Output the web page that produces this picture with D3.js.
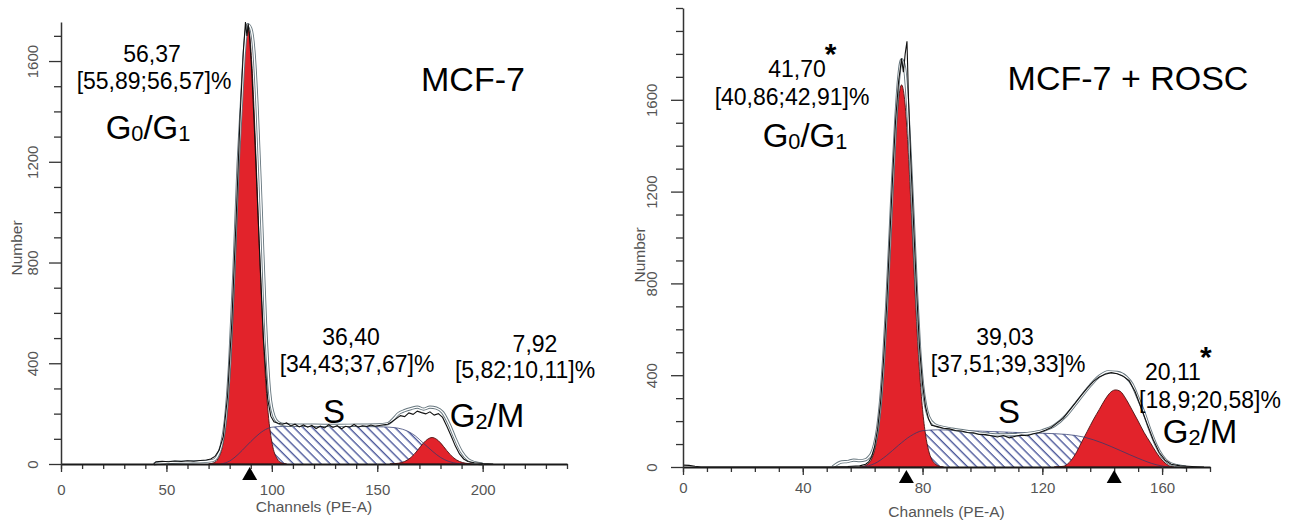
<!DOCTYPE html>
<html>
<head>
<meta charset="utf-8">
<script src="https://cdn.jsdelivr.net/npm/d3@7"></script>
<style>
  body { margin: 0; background: #fff; }
  svg { display: block; font-family: "Liberation Sans", Arial, sans-serif; }
</style>
</head>
<body>
<svg id="chart" width="1291" height="523"></svg>
<script>
/*** cell cycle histograms: MCF-7 vs MCF-7 + ROSC ***/

// [channel, count] pairs

// left panel, MCF-7
let leftG1 = [[70,0],[72.5,5],[74.5,21],[76.5,67],[78.5,181],[80.5,409],[82.5,770],[84.5,1211],[85.5,1419],[86.5,1589],[87.5,1701],[88.5,1740],[89.5,1701],[90.5,1589],[91.5,1419],[92.5,1211],[94.5,770],[96.5,409],[98.5,181],[100.5,67],[102.5,21],[104.5,5],[107,0]];
let leftS = [[76,0],[80,12],[84,38],[88,72],[92,105],[96,132],[100,146],[105,149],[110,149],[120,149],[130,149],[140,149],[150,148],[156,146],[160,142],[164,132],[168,112],[172,82],[176,52],[180,26],[184,10],[188,2],[191,0]];
let leftG2 = [[156,0],[160,3],[163,10],[166,26],[169,53],[172,84],[174,99],[176,105],[178,99],[180,84],[183,53],[186,26],[189,10],[192,3],[196,0]];
let leftFit = [[44,0],[50,6],[60,8],[68,10],[72,14],[74,28],[76,72],[78,175],[80,400],[82,760],[84,1190],[85.5,1420],[87,1640],[88.5,1745],[90,1730],[91.5,1640],[93,1420],[95,1000],[97,560],[99,280],[101,190],[103,165],[106,156],[110,154],[120,154],[130,153],[140,154],[150,155],[155,160],[158,182],[160,200],[163,212],[166,220],[169,226],[172,218],[175,226],[178,222],[181,205],[184,160],[187,100],[190,48],[193,18],[196,6],[200,0]];
let leftRaw = [[44,0],[45,9],[48,11],[51,9],[54,12],[57,10],[60,13],[63,11],[66,14],[69,16],[71,20],[73,30],[75,55],[77,110],[79,270],[81,560],[83,960],[85,1390],[86.5,1640],[87.5,1755],[88.2,1700],[88.8,1748],[89.5,1690],[90.5,1560],[92,1280],[94,880],[96,500],[98,260],[99.5,190],[101,168],[103,162],[105,158],[107,163],[109,151],[111,158],[113,147],[115,155],[117,146],[119,153],[121,141],[123,150],[125,143],[127,156],[129,145],[131,152],[133,140],[135,150],[137,146],[139,157],[141,146],[143,152],[145,149],[147,155],[149,150],[151,153],[153,156],[155,158],[157,168],[159,180],[161,192],[163,188],[165,203],[167,197],[169,210],[171,204],[173,199],[175,207],[177,194],[179,200],[181,185],[183,150],[185,112],[187,72],[189,40],[191,20],[193,10],[196,5],[200,2],[205,0]];
let leftMarkers = [89.5];

// right panel, MCF-7 + ROSC
let rightG1 = [[59,0],[60,2],[62,16],[63,35],[64,73],[65,141],[66,251],[67,415],[68,634],[69,898],[70,1177],[71,1427],[72,1602],[73,1665],[74,1602],[75,1427],[76,1177],[77,898],[78,634],[79,415],[80,251],[81,141],[82,73],[83,35],[84,16],[86,2],[87,0]];
let rightS = [[60,0],[64,15],[68,50],[72,95],[76,135],[80,158],[85,162],[90,160],[100,156],[110,151],[120,147],[128,142],[134,130],[140,105],[146,72],[152,38],[158,10],[162,0]];
let rightG2 = [[124,0],[127,3],[129,20],[131,55],[133,105],[135,155],[137,205],[139,250],[141,295],[143,328],[144.5,336],[146,330],[148,295],[150,248],[152,200],[154,150],[156,108],[158,65],[160,30],[162,8],[164,0]];
let rightFit = [[50,0],[53,22],[55,24],[57,30],[59,28],[61,32],[62,42],[63,60],[64,100],[65,170],[66,290],[67,470],[68,700],[69,970],[70,1250],[71,1500],[72,1690],[73,1775],[74,1740],[75,1580],[76,1330],[77,1050],[78,760],[79,520],[80,360],[81,270],[82,220],[84,185],[87,172],[90,165],[95,155],[100,146],[105,140],[110,141],[115,146],[120,158],[124,180],[128,225],[132,290],[136,355],[139,395],[142,415],[145,412],[148,392],[150,360],[152,300],[154,235],[156,160],[158,95],[160,48],[162,20],[165,6],[168,0]];
let rightRaw = [[0,8],[2,7],[4,3],[6,0],[50,0],[55,2],[59,5],[61,12],[62,22],[63,45],[64,90],[65,165],[66,285],[67,470],[68,700],[69,980],[70,1260],[71,1510],[72,1680],[73,1780],[73.6,1720],[74.2,1800],[74.8,1855],[75.3,1610],[76,1360],[77,1060],[78,770],[79,520],[80,360],[81,262],[82,210],[83,182],[85,176],[87,169],[89,166],[91,159],[93,157],[95,150],[97,149],[99,142],[101,141],[103,136],[105,131],[107,137],[109,127],[111,134],[113,139],[115,136],[117,145],[119,150],[121,160],[123,172],[125,192],[127,213],[129,246],[131,278],[133,312],[135,344],[137,372],[139,392],[141,404],[143,411],[145,406],[147,396],[149,376],[151,328],[153,258],[155,188],[157,120],[159,64],[161,30],[163,12],[166,5],[170,2],[174,0]];
let rightMarkers = [74.6, 144];

// ticks and texts
let leftXTicks = [0, 50, 100, 150, 200];
let rightXTicks = [0, 40, 80, 120, 160];
let yTicks = [0, 400, 800, 1200, 1600];
let leftPercents = ['56,37', '36,40', '7,92'];
let leftRanges = ['[55,89;56,57]%', '[34,43;37,67]%', '[5,82;10,11]%'];
let rightPercents = ['41,70*', '39,03', '20,11*'];
let rightRanges = ['[40,86;42,91]%', '[37,51;39,33]%', '[18,9;20,58]%'];
let phaseNames = ['G{0}/G{1}', 'S', 'G{2}/M'];
let titles = ['MCF-7', 'MCF-7 + ROSC'];

let svg = d3.select('#chart');

svg.append('defs')
  .append('pattern')
  .attr('id', 'hatch')
  .attr('patternUnits', 'userSpaceOnUse')
  .attr('width', 6.5)
  .attr('height', 6.5)
  .attr('patternTransform', 'rotate(-45)')
  .append('line')
  .attr('x1', 3).attr('y1', -1)
  .attr('x2', 3).attr('y2', 8)
  .attr('stroke', '#3e4b93')
  .attr('stroke-width', 1.3);

let addText = (g, txt, cx, by, size) => {
  let t = g.append('text')
    .attr('x', cx)
    .attr('y', by)
    .attr('text-anchor', 'middle')
    .attr('font-size', size)
    .attr('fill', '#000');
  let shift = 0;
  txt.split(/(\{[^}]*\})/).filter(s => s.length).forEach(s => {
    let sub = s[0] === '{';
    let want = sub ? 2 : 0;
    t.append('tspan')
      .attr('dy', want - shift)
      .attr('font-size', sub ? size * 0.66 : size)
      .text(sub ? s.slice(1, -1) : s);
    shift = want;
  });
  return t;
};

let addPercent = (g, txt, cx, by) => {
  let star = txt.endsWith('*');
  let t = addText(g, star ? txt.slice(0, -1) : txt, cx, by, 23);
  if (star) {
    let w = t.node().getComputedTextLength();
    g.append('text')
      .attr('x', cx + w / 2 - 1)
      .attr('y', by - 13)
      .attr('font-size', 30)
      .attr('font-weight', 'bold')
      .text('*');
  }
};

let drawPanel = (p) => {
  let x = d3.scaleLinear().domain(p.xDomain).range(p.xRange);
  let y = d3.scaleLinear().domain(p.yDomain).range(p.yRange);
  let g = svg.append('g');

  let area = d3.area()
    .x(d => x(d[0]))
    .y0(y(0))
    .y1(d => y(d[1]))
    .curve(d3.curveMonotoneX);
  let smooth = d3.line()
    .x(d => x(d[0]))
    .y(d => y(d[1]))
    .curve(d3.curveMonotoneX);
  let jagged = d3.line()
    .x(d => x(d[0]))
    .y(d => y(d[1]));

  // S phase, hatched
  g.append('path').datum(p.s)
    .attr('d', area)
    .attr('fill', 'url(#hatch)');

  // G0/G1 and G2/M peaks
  [p.g1, p.g2].forEach(peak => {
    g.append('path').datum(peak)
      .attr('d', area)
      .attr('fill', '#e2232b')
      .attr('stroke', '#4a1212')
      .attr('stroke-width', 0.9);
  });

  g.append('path').datum(p.s)
    .attr('d', smooth)
    .attr('fill', 'none')
    .attr('stroke', '#2f3a6e')
    .attr('stroke-opacity', 0.75)
    .attr('stroke-width', 1);

  // model fit, light double line
  g.append('path').datum(p.fit)
    .attr('d', smooth)
    .attr('fill', 'none')
    .attr('stroke', '#66767e')
    .attr('stroke-width', 3.2);
  g.append('path').datum(p.fit)
    .attr('d', smooth)
    .attr('fill', 'none')
    .attr('stroke', '#fff')
    .attr('stroke-width', 1.4);

  // measured histogram
  g.append('path').datum(p.raw)
    .attr('d', jagged)
    .attr('fill', 'none')
    .attr('stroke', '#111')
    .attr('stroke-width', 1.1);

  // axes
  let x0 = y(0);
  let xMinor = g.append('g')
    .attr('transform', 'translate(0,' + x0 + ')')
    .call(d3.axisBottom(x).tickValues(p.xMinor).tickSize(5).tickSizeOuter(0).tickFormat(''));
  xMinor.select('.domain').remove();
  let xAx = g.append('g')
    .attr('transform', 'translate(0,' + x0 + ')')
    .call(d3.axisBottom(x).tickValues(p.xTicks).tickSize(8).tickSizeOuter(0).tickPadding(p.xPad).tickFormat(d3.format('d')));

  let y0 = x(0);
  let yMinor = g.append('g')
    .attr('transform', 'translate(' + y0 + ',0)')
    .call(d3.axisLeft(y).tickValues(p.yMinor).tickSize(7).tickSizeOuter(0).tickFormat(''));
  yMinor.select('.domain').remove();
  let yAx = g.append('g')
    .attr('transform', 'translate(' + y0 + ',0)')
    .call(d3.axisLeft(y).tickValues(yTicks).tickSize(12).tickSizeOuter(0).tickFormat(d3.format('d')));
  yAx.selectAll('.tick text')
    .attr('transform', 'rotate(-90)')
    .attr('x', 0)
    .attr('y', p.yLabelOff)
    .attr('dy', 0)
    .attr('text-anchor', 'middle');

  [xMinor, xAx, yMinor, yAx].forEach(a => {
    a.selectAll('line').attr('stroke', '#333').attr('stroke-width', 1.3);
    a.selectAll('text')
      .attr('fill', '#555')
      .attr('font-size', 15)
      .attr('font-family', '"Liberation Sans", Arial, sans-serif');
  });
  xAx.select('.domain').attr('stroke', '#1a1a1a').attr('stroke-width', 2.2);
  yAx.select('.domain').attr('stroke', '#333').attr('stroke-width', 1.5);

  g.append('text')
    .attr('x', (p.xRange[0] + p.xRange[1]) / 2)
    .attr('y', p.chanY)
    .attr('text-anchor', 'middle')
    .attr('font-size', 15.5)
    .attr('fill', '#555')
    .text('Channels (PE-A)');
  g.append('text')
    .attr('transform', 'translate(' + p.numPos[0] + ',' + p.numPos[1] + ') rotate(-90)')
    .attr('text-anchor', 'middle')
    .attr('font-size', 15.5)
    .attr('fill', '#555')
    .text('Number');

  // peak markers
  g.selectAll('path.marker')
    .data(p.markers)
    .enter()
    .append('path')
    .attr('class', 'marker')
    .attr('d', c => 'M' + x(c) + ',' + (x0 + 3) + 'l7.5,13h-15z')
    .attr('fill', '#000');

  // annotations
  p.percents.forEach((t, i) => addPercent(g, t, p.pctPos[i][0], p.pctPos[i][1]));
  p.ranges.forEach((t, i) => addText(g, t, p.rngPos[i][0], p.rngPos[i][1], 23));
  phaseNames.forEach((t, i) => addText(g, t, p.phasePos[i][0], p.phasePos[i][1], 33));
  addText(g, p.title, p.titlePos[0], p.titlePos[1], 34);
};

drawPanel({
  g1: leftG1, s: leftS, g2: leftG2, fit: leftFit, raw: leftRaw, markers: leftMarkers,
  xDomain: [0, 240], xRange: [61, 567],
  yDomain: [0, 1755], yRange: [464, 22],
  xTicks: leftXTicks, xMinor: d3.range(0, 241, 10),
  yMinor: d3.range(100, 1701, 100).filter(v => v % 400),
  xPad: 12, yLabelOff: -23, chanY: 512, numPos: [22, 248],
  percents: leftPercents, ranges: leftRanges, title: titles[0],
  pctPos: [[152, 62], [351, 345], [535, 352]],
  rngPos: [[154, 89], [357, 372], [525, 378]],
  phasePos: [[148, 139], [334, 423], [487, 427]],
  titlePos: [473, 91]
});

drawPanel({
  g1: rightG1, s: rightS, g2: rightG2, fit: rightFit, raw: rightRaw, markers: rightMarkers,
  xDomain: [0, 176], xRange: [683, 1210],
  yDomain: [0, 2000], yRange: [467, 8],
  xTicks: rightXTicks, xMinor: d3.range(0, 177, 8),
  yMinor: d3.range(100, 2001, 100).filter(v => v % 400 || v > 1600),
  xPad: 7, yLabelOff: -26, chanY: 517, numPos: [645, 255],
  percents: rightPercents, ranges: rightRanges, title: titles[1],
  pctPos: [[797, 77], [1005, 345], [1173, 380]],
  rngPos: [[792, 105], [1008, 372], [1210, 408]],
  phasePos: [[805, 147], [1009, 423], [1200, 443]],
  titlePos: [1128, 90]
});
</script>
</body>
</html>
